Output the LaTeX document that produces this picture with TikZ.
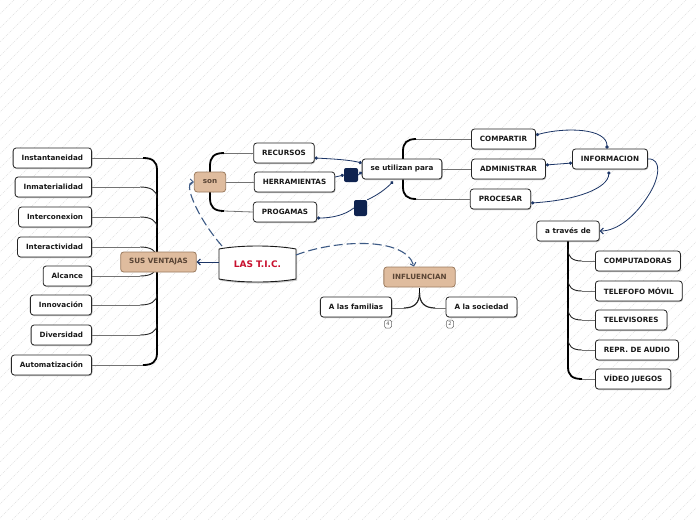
\documentclass[tikz,border=0pt]{standalone}
\usepackage{fontspec}
\setmainfont{DejaVu Sans}
\usetikzlibrary{arrows.meta,shadows}
\definecolor{navy}{HTML}{1C3566}
\definecolor{dnavy}{HTML}{0F2350}
\definecolor{dash}{HTML}{3D5A85}
\definecolor{tan}{HTML}{DFBC9E}
\definecolor{tanb}{HTML}{9C7C60}
\definecolor{tant}{HTML}{5A4535}
\definecolor{ticred}{HTML}{C8102E}
\tikzset{
  leaf/.style={draw=black!85, line width=0.8pt, rounded corners=3pt, fill=white,
    minimum height=20pt, inner xsep=8.5pt, inner ysep=0pt,
    font=\fontsize{7.2}{8}\selectfont\bfseries, text=black!90,
    drop shadow={shadow xshift=0.7pt, shadow yshift=-1pt, fill=black!45, opacity=0.6}},
  tanbox/.style={draw=tanb, line width=0.8pt, rounded corners=3pt, fill=tan,
    minimum height=20pt, inner xsep=8.5pt, inner ysep=0pt,
    font=\fontsize{7.2}{8}\selectfont\bfseries, text=tant},
  nav/.style={draw=navy, line width=0.8pt},
  dsh/.style={draw=dash, line width=1.1pt, dash pattern=on 9pt off 4pt},
  tipb/.style={-{Straight Barb[length=3pt,width=6pt,line width=1pt]}},
  dotend/.style={-{Circle[length=3.2pt]}},
  dotstart/.style={{Circle[length=3.2pt]}-},
  dotboth/.style={{Circle[length=3.2pt]}-{Circle[length=3.2pt]}},
  spine/.style={draw=black, line width=1.8pt},
  twig/.style={draw=black!55, line width=0.8pt},
  twigc/.style={draw=black!85, line width=0.9pt},
  sqr/.style={fill=dnavy, rounded corners=2pt, inner sep=0pt},
  badge/.style={draw=black!60, line width=0.5pt, rounded corners=1.5pt, fill=white,
    minimum width=7pt, minimum height=8pt, inner sep=0pt, font=\fontsize{5}{5}\selectfont, text=black!70}
}
\begin{document}
\begin{tikzpicture}[x=1pt,y=-1pt]
\useasboundingbox (0,0) rectangle (696,520);
\fill[white] (0,0) rectangle (696,520);
\begin{scope}
\clip (0,0) rectangle (696,520);
\foreach \c in {0,14,...,1230} \draw[black!12, line width=0.5pt, dash pattern=on 1pt off 1pt] (\c,0) -- (\c-520,520);
\end{scope}

% left leaves
\node[leaf, anchor=east] (inst) at (92,158) {Instantaneidad};
\node[leaf, anchor=east] (inma) at (92,187) {Inmaterialidad};
\node[leaf, anchor=east] (intc) at (92,217) {Interconexion};
\node[leaf, anchor=east] (inta) at (92,247) {Interactividad};
\node[leaf, anchor=east] (alc) at (92,276) {Alcance};
\node[leaf, anchor=east] (inno) at (92,305) {Innovación};
\node[leaf, anchor=east] (div) at (92,335) {Diversidad};
\node[leaf, anchor=east] (auto) at (92,365) {Automatización};

% left bracket
\draw[twig] (inst.east) -- (143,158);
\draw[twig] (auto.east) -- (143,365);
\draw[spine] (143,158) .. controls (152,158) and (157,161) .. (157,170) -- (157,353) .. controls (157,362) and (152,365) .. (143,365);
\draw[twig] (inma.east) -- (140,187);
\draw[twigc] (140,187) .. controls (150,187) and (157,190) .. (157,198);
\draw[twig] (intc.east) -- (140,217);
\draw[twigc] (140,217) .. controls (150,217) and (157,220) .. (157,228);
\draw[twig] (inta.east) -- (140,247);
\draw[twigc] (140,247) .. controls (150,247) and (157,250) .. (157,258);
\draw[twig] (alc.east) -- (140,276);
\draw[twigc] (140,276) .. controls (150,276) and (157,273) .. (157,265);
\draw[twig] (inno.east) -- (140,305);
\draw[twigc] (140,305) .. controls (150,305) and (157,302) .. (157,294);
\draw[twig] (div.east) -- (140,335);
\draw[twigc] (140,335) .. controls (150,335) and (157,332) .. (157,324);

\node[tanbox] (sus) at (158.5,262) {SUS VENTAJAS};

% son bracket
\node[leaf] (rec) at (284,153) {RECURSOS};
\node[leaf] (herr) at (294.5,182) {HERRAMIENTAS};
\node[leaf] (prog) at (285,212) {PROGAMAS};
\draw[twig] (rec.west) -- (224,153);
\draw[twig] (prog.west) -- (224,211);
\draw[spine] (224,153) .. controls (214,153) and (210,157) .. (210,166) -- (210,198) .. controls (210,207) and (214,211) .. (224,211);
\node[tanbox] (son) at (210,182) {son};
\draw[twig] (son.east) -- (herr.west);

% se utilizan para bracket
\node[leaf] (comp) at (503.5,139) {COMPARTIR};
\node[leaf] (adm) at (508.5,169) {ADMINISTRAR};
\node[leaf] (proc) at (500.5,199) {PROCESAR};
\draw[twig] (comp.west) -- (416,139);
\draw[twig] (proc.west) -- (416,199);
\draw[spine] (416,139) .. controls (407,139) and (403,143) .. (403,151) -- (403,187) .. controls (403,195) and (407,199) .. (416,199);
\draw[twig] (442,169) -- (adm.west);
\node[leaf] (se) at (402,169) {se utilizan para};

\node[leaf] (info) at (610,159) {INFORMACION};

% a traves de bracket
\node[leaf] (atr) at (568,231) {a través de};
\node[leaf, anchor=west] (pc) at (595,261) {COMPUTADORAS};
\node[leaf, anchor=west] (tel) at (595,291) {TELEFOFO MÓVIL};
\node[leaf, anchor=west] (tv) at (595,320) {TELEVISORES};
\node[leaf, anchor=west] (aud) at (595,350) {REPR. DE AUDIO};
\node[leaf, anchor=west] (vid) at (595,379) {VÍDEO JUEGOS};
\draw[spine] (atr.south) -- (568,367) .. controls (568,375) and (572,379) .. (582,379);
\draw[twig] (582,379) -- (vid.west);
\draw[twigc] (568,249) .. controls (568,257) and (572,261) .. (582,261);
\draw[twig] (582,261) -- (pc.west);
\draw[twigc] (568,279) .. controls (568,287) and (572,291) .. (582,291);
\draw[twig] (582,291) -- (tel.west);
\draw[twigc] (568,308) .. controls (568,316) and (572,320) .. (582,320);
\draw[twig] (582,320) -- (tv.west);
\draw[twigc] (568,338) .. controls (568,346) and (572,350) .. (582,350);
\draw[twig] (582,350) -- (aud.west);

% INFLUENCIAN
\node[tanbox] (infl) at (419.5,277) {INFLUENCIAN};
\node[leaf] (fam) at (356,307) {A las familias};
\node[leaf] (soc) at (481.5,307) {A la sociedad};
\draw[spine] (419.5,288) -- (419.5,295);
\draw[twigc, line width=1.2pt] (419.5,293) .. controls (419.5,303) and (414,308) .. (404,308);
\draw[twigc, line width=1.2pt] (419.5,293) .. controls (419.5,303) and (425,308) .. (435,308);
\draw[twig] (404,308) -- (fam.east |- 0,308);
\draw[twig] (435,308) -- (soc.west |- 0,308);
\node[badge] (b4) at (388,324) {4};
\node[badge] (b2) at (450,324) {2};

% LAS T.I.C.
\node[minimum width=77pt, minimum height=36pt, inner sep=0pt] (tic) at (257.5,264) {};
\fill[black!40, opacity=0.5] (220,250) .. controls (240,246) and (276,246) .. (297,250) -- (297,280.5) .. controls (276,284.5) and (240,284.5) .. (220,280.5) -- cycle;
\draw[draw=black!90, line width=0.9pt, fill=white, line join=round] (219,249) .. controls (240,245) and (275,245) .. (296,249) -- (296,279) .. controls (275,283) and (240,283) .. (219,279) -- cycle;
\node[font=\fontsize{9}{10}\selectfont\bfseries, text=ticred] (tictext) at (257.5,264) {LAS T.I.C.};

% squares
\node[sqr, minimum width=14pt, minimum height=14pt] (sq1) at (351,175) {};
\node[sqr, minimum width=13pt, minimum height=16pt] (sq2) at (360.5,208) {};

% navy connectors
\draw[nav, dotboth] ([yshift=-5pt]rec.east) .. controls (335,159) and (350,160) .. ([yshift=6pt]se.west);
\draw[nav, dotend] ([yshift=5pt]herr.east) -- (sq1.west);
\draw[nav, dotend] (sq1.east) -- ([yshift=-3pt]se.west);
\draw[nav, dotstart] ([yshift=-6pt]prog.east) .. controls (332,218) and (345,215) .. (sq2.west);
\draw[nav, dotend] (sq2.north east) .. controls (376,196) and (386,189) .. ([xshift=-9pt,yshift=-2pt]se.south);

\draw[nav, dotboth] ([yshift=4pt]comp.east) .. controls (565,127) and (607,128) .. ([xshift=-3pt]info.north);
\draw[nav, dotboth] ([yshift=4pt]adm.east) -- ([yshift=-4pt]info.west);
\draw[nav, dotboth] ([yshift=-4pt]proc.east) .. controls (578,200) and (608,188) .. ([xshift=-1pt,yshift=-2pt]info.south);
\draw[nav, tipb] (info.east) .. controls (662,158) and (660,178) .. (648,196) .. controls (636,215) and (618,231) .. (atr.east);

% main arrows
\draw[nav, tipb, line width=1pt] (tic.west |- sus.east) -- (sus.east);
\draw[dsh, tipb] (222,246) .. controls (196,216) and (183,182) .. (son.west);
\draw[dsh, tipb] (296,255) .. controls (335,240) and (405,236) .. (infl.north -| 414,0);
\end{tikzpicture}
\end{document}
